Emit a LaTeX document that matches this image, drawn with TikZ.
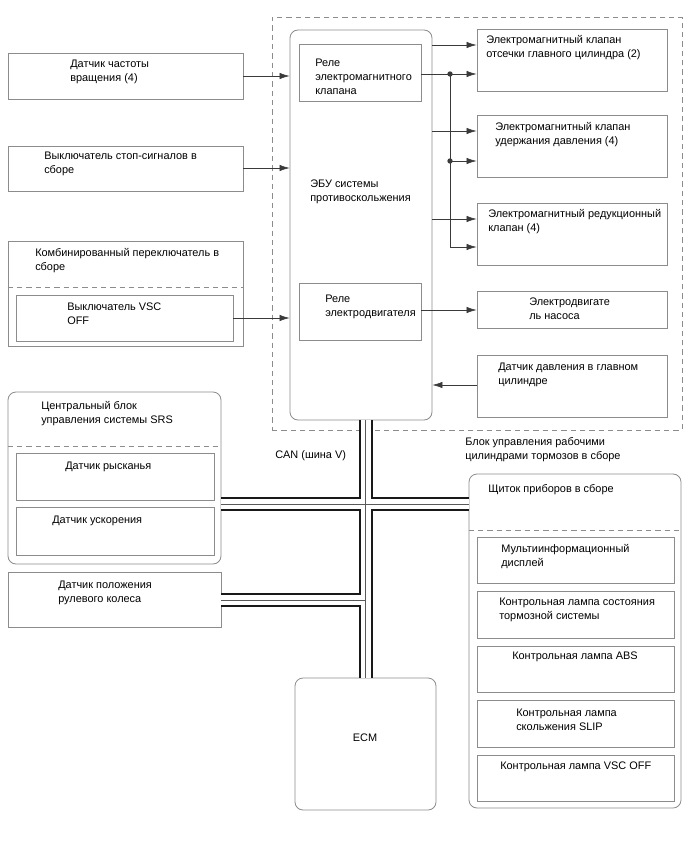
\documentclass[tikz,border=0pt]{standalone}
\usepackage{fontspec}
\setmainfont{Liberation Sans}
\usetikzlibrary{arrows.meta,fit}
\definecolor{boxgray}{HTML}{8C8C8C}
\definecolor{wiregray}{HTML}{3A3A3A}
\tikzset{
  box/.style={draw=boxgray, line width=0.6pt, inner sep=0pt},
  rbox/.style={box, rounded corners=6pt},
  sepbox/.style={draw=boxgray, dash pattern=on 4pt off 3pt, line width=0.6pt, inner sep=0pt},
  txt/.style={anchor=north west, inner sep=0pt, yshift=-1.5pt, align=left, font=\fontsize{8.2}{10.3}\selectfont},
  arr/.style={draw=wiregray, line width=0.5pt, -{Latex[length=7.5pt,width=4.8pt]}},
  busa/.style={line width=10.5pt, draw=black!90},
  busb/.style={line width=7.5pt, draw=white},
  busc/.style={line width=0.6pt, draw=black!65}
}
\begin{document}
\begin{tikzpicture}[x=0.75pt, y=-0.75pt]
  \useasboundingbox[fill=white] (0,0) rectangle (688,852);
  % brake actuator assembly
  \node[sepbox, fit={(272,17) (682,430)}] (act) {};
  \node[txt] (actt) at (465,435) {Блок управления рабочими\\цилиндрами тормозов в сборе};
  % skid control ECU
  \node[rbox, fit={(290,30) (432,420)}] (ecu) {};
  \node[txt] (ecut) at (310,178) {ЭБУ системы\\противоскольжения};
  \node[box, fit={(299,44) (421,101)}] (rel1) {};
  \node[txt] (rel1t) at (315,57) {Реле\\электромагнитного\\клапана};
  \node[box, fit={(299,283) (421,340)}] (rel2) {};
  \node[txt] (rel2t) at (325,293) {Реле\\электродвигателя};
  % outputs on the right
  \node[box, fit={(477,29) (667,91)}] (r1) {};
  \node[txt] (r1t) at (486,33) {Электромагнитный клапан\\отсечки главного цилиндра (2)};
  \node[box, fit={(477,115) (667,177)}] (r2) {};
  \node[txt] (r2t) at (495,120) {Электромагнитный клапан\\удержания давления (4)};
  \node[box, fit={(477,203) (667,265)}] (r3) {};
  \node[txt] (r3t) at (488,207) {Электромагнитный редукционный\\клапан (4)};
  \node[box, fit={(477,291) (667,328)}] (r4) {};
  \node[txt] (r4t) at (529,296) {Электродвигате\\ль насоса};
  \node[box, fit={(477,355) (667,417)}] (r5) {};
  \node[txt] (r5t) at (498,361) {Датчик давления в главном\\цилиндре};
  % inputs on the left
  \node[box, fit={(8,53) (243,99)}] (l1) {};
  \node[txt] (l1t) at (70,58) {Датчик частоты\\вращения (4)};
  \node[box, fit={(8,146) (243,191)}] (l2) {};
  \node[txt] (l2t) at (44,150) {Выключатель стоп-сигналов в\\сборе};
  \node[box, fit={(8,241) (243,346)}] (l3) {};
  \draw[sepbox] (l3.west |- 0,287) -- (l3.east |- 0,287);
  \node[txt] (l3t) at (35,246) {Комбинированный переключатель в\\сборе};
  \node[box, fit={(16,295) (233,341)}] (vsc) {};
  \node[txt] (vsct) at (67,301) {Выключатель VSC\\OFF};
  % SRS unit and sensors
  \node[rbox, fit={(8,392) (221,564)}] (srs) {};
  \draw[sepbox] (srs.west |- 0,446) -- (srs.east |- 0,446);
  \node[txt] (srst) at (41,399) {Центральный блок\\управления системы SRS};
  \node[box, fit={(16,453) (214,500)}] (yaw) {};
  \node[txt] (yawt) at (65,460) {Датчик рысканья};
  \node[box, fit={(16,507) (214,555)}] (acc) {};
  \node[txt] (acct) at (52,514) {Датчик ускорения};
  \node[box, fit={(8,572) (221,627)}] (steer) {};
  \node[txt] (steert) at (58,579) {Датчик положения\\рулевого колеса};
  % ECM
  \node[rbox, fit={(295,678) (436,810)}] (ecm) {};
  \node[txt, anchor=center] (ecmt) at (365,736) {ECM};
  % combination meter
  \node[rbox, fit={(469,474) (681,808)}] (ic) {};
  \draw[sepbox] (ic.west |- 0,530) -- (ic.east |- 0,530);
  \node[txt] (ict) at (488,482) {Щиток приборов в сборе};
  \node[box, fit={(477,537) (674,583)}] (m1) {};
  \node[txt] (m1t) at (501,542) {Мультиинформационный\\дисплей};
  \node[box, fit={(477,591) (674,638)}] (m2) {};
  \node[txt] (m2t) at (499,596) {Контрольная лампа состояния\\тормозной системы};
  \node[box, fit={(477,646) (674,692)}] (m3) {};
  \node[txt] (m3t) at (512,650) {Контрольная лампа ABS};
  \node[box, fit={(477,700) (674,747)}] (m4) {};
  \node[txt] (m4t) at (516,707) {Контрольная лампа\\скольжения SLIP};
  \node[box, fit={(477,755) (674,801)}] (m5) {};
  \node[txt] (m5t) at (500,760) {Контрольная лампа VSC OFF};
  \node[txt] (cant) at (275,448) {CAN (шина V)};
  % signal lines
  \draw[arr] (l1.east |- 0,76) -- (ecu.west |- 0,76);
  \draw[arr] (l2.east |- 0,168) -- (ecu.west |- 0,168);
  \draw[arr] (vsc.east |- 0,318) -- (ecu.west |- 0,318);
  \draw[arr] (ecu.east |- 0,45) -- (r1.west |- 0,45);
  \draw[arr] (ecu.east |- 0,131) -- (r2.west |- 0,131);
  \draw[arr] (ecu.east |- 0,219) -- (r3.west |- 0,219);
  \coordinate (d1) at (450,74);
  \coordinate (d2) at (450,161);
  \draw[arr] (rel1.east |- d1) -- (r1.west |- d1);
  \draw[arr] (d1) |- (r3.west |- 0,247);
  \draw[arr] (d2) -- (r2.west |- d2);
  \fill[wiregray] (d1) circle (2pt) (d2) circle (2pt);
  \draw[arr] (rel2.east |- 0,310) -- (r4.west |- 0,310);
  \draw[arr] (r5.west |- 0,385) -- (ecu.east |- 0,385);
  % CAN bus
  \coordinate (j1) at (ecm.north |- 0,504);
  \coordinate (j2) at (ecm.north |- 0,600);
  \foreach \s in {busa,busb,busc}{
    \draw[\s] (ecu.south -| ecm.north) -- (ecm.north);
    \draw[\s] (srs.east |- j1) -- (ic.west |- j1);
    \draw[\s] (steer.east |- j2) -- (j2);
  }
\end{tikzpicture}
\end{document}
